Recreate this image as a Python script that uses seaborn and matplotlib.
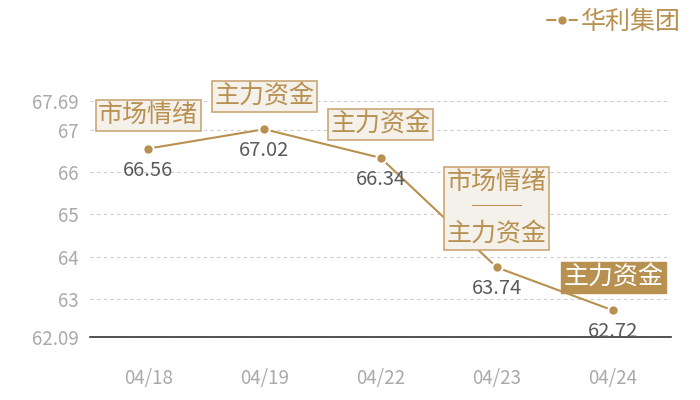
import pandas as pd
import seaborn as sns
import matplotlib.pyplot as plt

# data
dates = ['04/18', '04/19', '04/22', '04/23', '04/24']
prices = [66.56, 67.02, 66.34, 63.74, 62.72]
tags = ['市场情绪', '主力资金', '主力资金', '市场情绪\n──\n主力资金', '主力资金']
tag_filled = [False, False, False, False, True]
yticks = [62.09, 63, 64, 65, 66, 67, 67.69]
series_name = '华利集团'

gold = '#b8904f'
df = pd.DataFrame({'date': dates, 'price': prices})

sns.set_theme(style='white')
plt.rcParams['font.family'] = ['Noto Sans CJK SC', 'DejaVu Sans']

fig = plt.figure(figsize=(7, 4), dpi=100)
ax = fig.add_axes([0.1286, 0.1575, 0.959 - 0.1286, 0.5900])

sns.lineplot(data=df, x='date', y='price', ax=ax, color=gold, lw=1.5,
             marker='o', markersize=7.5, markeredgecolor='white',
             markeredgewidth=1.5, label=series_name, sort=False)

ax.set_xlim(-0.5, len(dates) - 0.5)
ax.set_ylim(yticks[0], yticks[-1])
ax.set_yticks(yticks)
ax.set_yticklabels([f'{t:g}' for t in yticks])
ax.set_xlabel('')
ax.set_ylabel('')
ax.grid(axis='y', color='#cccccc', linestyle=(0, (3, 3)), lw=0.8)
ax.grid(axis='x', visible=False)
for s in ['left', 'right', 'top']:
    ax.spines[s].set_visible(False)
ax.spines['bottom'].set_color('#333333')
ax.spines['bottom'].set_linewidth(1.2)
ax.tick_params(axis='both', length=0, labelcolor='#aaaaaa', labelsize=13.5)
ax.tick_params(axis='x', pad=22)
ax.tick_params(axis='y', pad=8)

for i, (p, t, f) in enumerate(zip(prices, tags, tag_filled)):
    ax.annotate(f'{p:.2f}', (i, p), xytext=(0, -11), textcoords='offset pixels',
                ha='center', va='top', fontsize=14.5, color='#5a5a5a')
    if f:
        box = dict(boxstyle='square,pad=0.1', fc=gold, ec=gold, lw=1)
        tc = 'white'
    else:
        box = dict(boxstyle='square,pad=0.1', fc='#f4f0ea', ec='#c9a775', lw=1.2)
        tc = gold
    ax.annotate(t, (i, p), xytext=(0, 20), textcoords='offset pixels',
                ha='center', va='bottom', fontsize=18, color=tc, bbox=box,
                linespacing=1.0, annotation_clip=False)

leg = ax.legend(loc='upper right', bbox_to_anchor=(0.99, 1.01),
                bbox_transform=fig.transFigure, frameon=False,
                fontsize=18, handlelength=1.2, handletextpad=0.15,
                borderaxespad=0.1)
for txt in leg.get_texts():
    txt.set_color(gold)

fig.savefig('out.png', dpi=100)
